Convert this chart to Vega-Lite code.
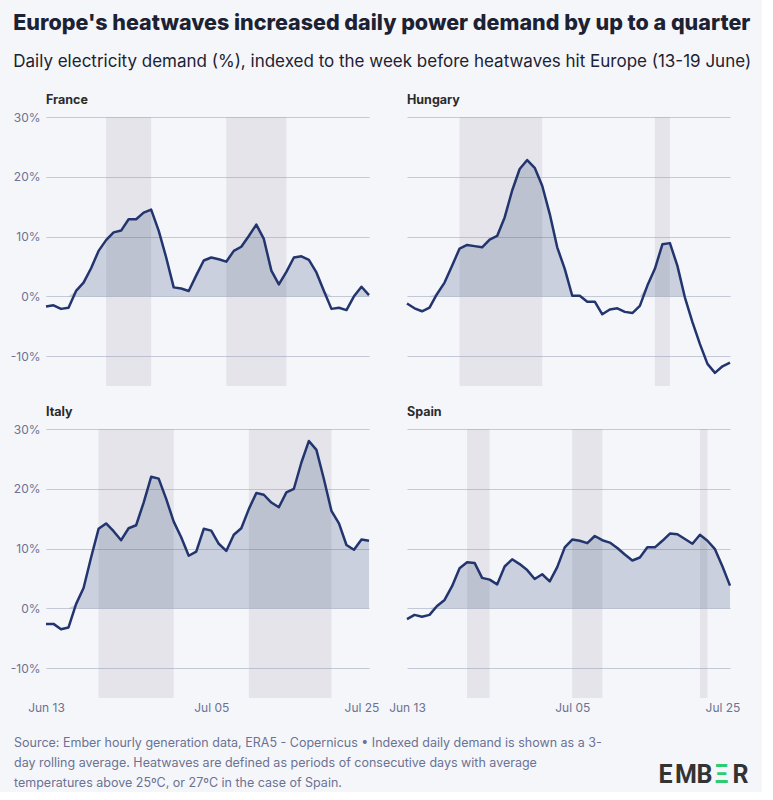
{
  "$schema": "https://vega.github.io/schema/vega-lite/v6.json",
  "background": "#f5f6fa",
  "padding": {"left": 10, "top": 13, "right": 10, "bottom": 0},
  "title": {
    "text": "Europe's heatwaves increased daily power demand by up to a quarter",
    "subtitle": "Daily electricity demand (%), indexed to the week before heatwaves hit Europe (13-19 June)",
    "anchor": "start",
    "frame": "bounds",
    "dx": 3,
    "font": "Inter",
    "fontSize": 21.5,
    "fontWeight": 800,
    "color": "#1c2233",
    "subtitleFont": "Inter",
    "subtitleFontSize": 17,
    "subtitleFontWeight": "normal",
    "subtitleColor": "#1c2233",
    "subtitlePadding": 19,
    "offset": 24
  },
  "data": {
    "values": [
      {"country": "France", "date": "2025-06-13", "demand": -1.7},
      {"country": "France", "date": "2025-06-14", "demand": -1.5},
      {"country": "France", "date": "2025-06-15", "demand": -2.1},
      {"country": "France", "date": "2025-06-16", "demand": -1.9},
      {"country": "France", "date": "2025-06-17", "demand": 0.9},
      {"country": "France", "date": "2025-06-18", "demand": 2.3},
      {"country": "France", "date": "2025-06-19", "demand": 4.7},
      {"country": "France", "date": "2025-06-20", "demand": 7.6},
      {"country": "France", "date": "2025-06-21", "demand": 9.4},
      {"country": "France", "date": "2025-06-22", "demand": 10.7},
      {"country": "France", "date": "2025-06-23", "demand": 11.0},
      {"country": "France", "date": "2025-06-24", "demand": 12.9},
      {"country": "France", "date": "2025-06-25", "demand": 12.9},
      {"country": "France", "date": "2025-06-26", "demand": 14.0},
      {"country": "France", "date": "2025-06-27", "demand": 14.5},
      {"country": "France", "date": "2025-06-28", "demand": 11.0},
      {"country": "France", "date": "2025-06-29", "demand": 6.5},
      {"country": "France", "date": "2025-06-30", "demand": 1.5},
      {"country": "France", "date": "2025-07-01", "demand": 1.3},
      {"country": "France", "date": "2025-07-02", "demand": 0.9},
      {"country": "France", "date": "2025-07-03", "demand": 3.5},
      {"country": "France", "date": "2025-07-04", "demand": 6.0},
      {"country": "France", "date": "2025-07-05", "demand": 6.5},
      {"country": "France", "date": "2025-07-06", "demand": 6.2},
      {"country": "France", "date": "2025-07-07", "demand": 5.8},
      {"country": "France", "date": "2025-07-08", "demand": 7.6},
      {"country": "France", "date": "2025-07-09", "demand": 8.3},
      {"country": "France", "date": "2025-07-10", "demand": 10.1},
      {"country": "France", "date": "2025-07-11", "demand": 12.0},
      {"country": "France", "date": "2025-07-12", "demand": 9.6},
      {"country": "France", "date": "2025-07-13", "demand": 4.3},
      {"country": "France", "date": "2025-07-14", "demand": 2.0},
      {"country": "France", "date": "2025-07-15", "demand": 4.1},
      {"country": "France", "date": "2025-07-16", "demand": 6.5},
      {"country": "France", "date": "2025-07-17", "demand": 6.7},
      {"country": "France", "date": "2025-07-18", "demand": 6.1},
      {"country": "France", "date": "2025-07-19", "demand": 4.0},
      {"country": "France", "date": "2025-07-20", "demand": 0.9},
      {"country": "France", "date": "2025-07-21", "demand": -2.1},
      {"country": "France", "date": "2025-07-22", "demand": -1.9},
      {"country": "France", "date": "2025-07-23", "demand": -2.3},
      {"country": "France", "date": "2025-07-24", "demand": 0.0},
      {"country": "France", "date": "2025-07-25", "demand": 1.6},
      {"country": "France", "date": "2025-07-26", "demand": 0.2},
      {"country": "Hungary", "date": "2025-06-13", "demand": -1.2},
      {"country": "Hungary", "date": "2025-06-14", "demand": -2.0},
      {"country": "Hungary", "date": "2025-06-15", "demand": -2.5},
      {"country": "Hungary", "date": "2025-06-16", "demand": -1.9},
      {"country": "Hungary", "date": "2025-06-17", "demand": 0.4},
      {"country": "Hungary", "date": "2025-06-18", "demand": 2.3},
      {"country": "Hungary", "date": "2025-06-19", "demand": 5.1},
      {"country": "Hungary", "date": "2025-06-20", "demand": 8.0},
      {"country": "Hungary", "date": "2025-06-21", "demand": 8.6},
      {"country": "Hungary", "date": "2025-06-22", "demand": 8.4},
      {"country": "Hungary", "date": "2025-06-23", "demand": 8.2},
      {"country": "Hungary", "date": "2025-06-24", "demand": 9.5},
      {"country": "Hungary", "date": "2025-06-25", "demand": 10.1},
      {"country": "Hungary", "date": "2025-06-26", "demand": 13.2},
      {"country": "Hungary", "date": "2025-06-27", "demand": 17.7},
      {"country": "Hungary", "date": "2025-06-28", "demand": 21.3},
      {"country": "Hungary", "date": "2025-06-29", "demand": 22.8},
      {"country": "Hungary", "date": "2025-06-30", "demand": 21.5},
      {"country": "Hungary", "date": "2025-07-01", "demand": 18.5},
      {"country": "Hungary", "date": "2025-07-02", "demand": 13.8},
      {"country": "Hungary", "date": "2025-07-03", "demand": 8.2},
      {"country": "Hungary", "date": "2025-07-04", "demand": 4.6},
      {"country": "Hungary", "date": "2025-07-05", "demand": 0.1},
      {"country": "Hungary", "date": "2025-07-06", "demand": 0.1},
      {"country": "Hungary", "date": "2025-07-07", "demand": -0.9},
      {"country": "Hungary", "date": "2025-07-08", "demand": -0.9},
      {"country": "Hungary", "date": "2025-07-09", "demand": -3.0},
      {"country": "Hungary", "date": "2025-07-10", "demand": -2.2},
      {"country": "Hungary", "date": "2025-07-11", "demand": -2.0},
      {"country": "Hungary", "date": "2025-07-12", "demand": -2.6},
      {"country": "Hungary", "date": "2025-07-13", "demand": -2.8},
      {"country": "Hungary", "date": "2025-07-14", "demand": -1.6},
      {"country": "Hungary", "date": "2025-07-15", "demand": 1.8},
      {"country": "Hungary", "date": "2025-07-16", "demand": 4.6},
      {"country": "Hungary", "date": "2025-07-17", "demand": 8.7},
      {"country": "Hungary", "date": "2025-07-18", "demand": 8.9},
      {"country": "Hungary", "date": "2025-07-19", "demand": 5.1},
      {"country": "Hungary", "date": "2025-07-20", "demand": -0.2},
      {"country": "Hungary", "date": "2025-07-21", "demand": -4.3},
      {"country": "Hungary", "date": "2025-07-22", "demand": -8.0},
      {"country": "Hungary", "date": "2025-07-23", "demand": -11.3},
      {"country": "Hungary", "date": "2025-07-24", "demand": -12.8},
      {"country": "Hungary", "date": "2025-07-25", "demand": -11.7},
      {"country": "Hungary", "date": "2025-07-26", "demand": -11.1},
      {"country": "Italy", "date": "2025-06-13", "demand": -2.6},
      {"country": "Italy", "date": "2025-06-14", "demand": -2.6},
      {"country": "Italy", "date": "2025-06-15", "demand": -3.5},
      {"country": "Italy", "date": "2025-06-16", "demand": -3.2},
      {"country": "Italy", "date": "2025-06-17", "demand": 0.7},
      {"country": "Italy", "date": "2025-06-18", "demand": 3.4},
      {"country": "Italy", "date": "2025-06-19", "demand": 8.5},
      {"country": "Italy", "date": "2025-06-20", "demand": 13.3},
      {"country": "Italy", "date": "2025-06-21", "demand": 14.2},
      {"country": "Italy", "date": "2025-06-22", "demand": 12.9},
      {"country": "Italy", "date": "2025-06-23", "demand": 11.4},
      {"country": "Italy", "date": "2025-06-24", "demand": 13.4},
      {"country": "Italy", "date": "2025-06-25", "demand": 13.9},
      {"country": "Italy", "date": "2025-06-26", "demand": 17.7},
      {"country": "Italy", "date": "2025-06-27", "demand": 22.0},
      {"country": "Italy", "date": "2025-06-28", "demand": 21.7},
      {"country": "Italy", "date": "2025-06-29", "demand": 18.3},
      {"country": "Italy", "date": "2025-06-30", "demand": 14.5},
      {"country": "Italy", "date": "2025-07-01", "demand": 11.9},
      {"country": "Italy", "date": "2025-07-02", "demand": 8.8},
      {"country": "Italy", "date": "2025-07-03", "demand": 9.5},
      {"country": "Italy", "date": "2025-07-04", "demand": 13.3},
      {"country": "Italy", "date": "2025-07-05", "demand": 13.0},
      {"country": "Italy", "date": "2025-07-06", "demand": 10.8},
      {"country": "Italy", "date": "2025-07-07", "demand": 9.6},
      {"country": "Italy", "date": "2025-07-08", "demand": 12.3},
      {"country": "Italy", "date": "2025-07-09", "demand": 13.4},
      {"country": "Italy", "date": "2025-07-10", "demand": 16.6},
      {"country": "Italy", "date": "2025-07-11", "demand": 19.3},
      {"country": "Italy", "date": "2025-07-12", "demand": 19.0},
      {"country": "Italy", "date": "2025-07-13", "demand": 17.7},
      {"country": "Italy", "date": "2025-07-14", "demand": 16.9},
      {"country": "Italy", "date": "2025-07-15", "demand": 19.4},
      {"country": "Italy", "date": "2025-07-16", "demand": 20.0},
      {"country": "Italy", "date": "2025-07-17", "demand": 24.4},
      {"country": "Italy", "date": "2025-07-18", "demand": 28.0},
      {"country": "Italy", "date": "2025-07-19", "demand": 26.5},
      {"country": "Italy", "date": "2025-07-20", "demand": 21.6},
      {"country": "Italy", "date": "2025-07-21", "demand": 16.3},
      {"country": "Italy", "date": "2025-07-22", "demand": 14.2},
      {"country": "Italy", "date": "2025-07-23", "demand": 10.6},
      {"country": "Italy", "date": "2025-07-24", "demand": 9.8},
      {"country": "Italy", "date": "2025-07-25", "demand": 11.5},
      {"country": "Italy", "date": "2025-07-26", "demand": 11.3},
      {"country": "Spain", "date": "2025-06-13", "demand": -1.8},
      {"country": "Spain", "date": "2025-06-14", "demand": -1.1},
      {"country": "Spain", "date": "2025-06-15", "demand": -1.4},
      {"country": "Spain", "date": "2025-06-16", "demand": -1.1},
      {"country": "Spain", "date": "2025-06-17", "demand": 0.4},
      {"country": "Spain", "date": "2025-06-18", "demand": 1.4},
      {"country": "Spain", "date": "2025-06-19", "demand": 3.7},
      {"country": "Spain", "date": "2025-06-20", "demand": 6.7},
      {"country": "Spain", "date": "2025-06-21", "demand": 7.7},
      {"country": "Spain", "date": "2025-06-22", "demand": 7.6},
      {"country": "Spain", "date": "2025-06-23", "demand": 5.1},
      {"country": "Spain", "date": "2025-06-24", "demand": 4.8},
      {"country": "Spain", "date": "2025-06-25", "demand": 4.0},
      {"country": "Spain", "date": "2025-06-26", "demand": 7.0},
      {"country": "Spain", "date": "2025-06-27", "demand": 8.2},
      {"country": "Spain", "date": "2025-06-28", "demand": 7.4},
      {"country": "Spain", "date": "2025-06-29", "demand": 6.4},
      {"country": "Spain", "date": "2025-06-30", "demand": 4.9},
      {"country": "Spain", "date": "2025-07-01", "demand": 5.7},
      {"country": "Spain", "date": "2025-07-02", "demand": 4.5},
      {"country": "Spain", "date": "2025-07-03", "demand": 6.9},
      {"country": "Spain", "date": "2025-07-04", "demand": 10.2},
      {"country": "Spain", "date": "2025-07-05", "demand": 11.5},
      {"country": "Spain", "date": "2025-07-06", "demand": 11.3},
      {"country": "Spain", "date": "2025-07-07", "demand": 10.9},
      {"country": "Spain", "date": "2025-07-08", "demand": 12.1},
      {"country": "Spain", "date": "2025-07-09", "demand": 11.4},
      {"country": "Spain", "date": "2025-07-10", "demand": 11.0},
      {"country": "Spain", "date": "2025-07-11", "demand": 10.1},
      {"country": "Spain", "date": "2025-07-12", "demand": 9.0},
      {"country": "Spain", "date": "2025-07-13", "demand": 8.0},
      {"country": "Spain", "date": "2025-07-14", "demand": 8.5},
      {"country": "Spain", "date": "2025-07-15", "demand": 10.2},
      {"country": "Spain", "date": "2025-07-16", "demand": 10.2},
      {"country": "Spain", "date": "2025-07-17", "demand": 11.3},
      {"country": "Spain", "date": "2025-07-18", "demand": 12.5},
      {"country": "Spain", "date": "2025-07-19", "demand": 12.4},
      {"country": "Spain", "date": "2025-07-20", "demand": 11.6},
      {"country": "Spain", "date": "2025-07-21", "demand": 10.8},
      {"country": "Spain", "date": "2025-07-22", "demand": 12.3},
      {"country": "Spain", "date": "2025-07-23", "demand": 11.3},
      {"country": "Spain", "date": "2025-07-24", "demand": 9.9},
      {"country": "Spain", "date": "2025-07-25", "demand": 7.0},
      {"country": "Spain", "date": "2025-07-26", "demand": 3.8},
      {"country": "France", "start": "2025-06-21", "end": "2025-06-27"},
      {"country": "France", "start": "2025-07-07", "end": "2025-07-15"},
      {"country": "Hungary", "start": "2025-06-20", "end": "2025-07-01"},
      {"country": "Hungary", "start": "2025-07-16", "end": "2025-07-18"},
      {"country": "Italy", "start": "2025-06-20", "end": "2025-06-30"},
      {"country": "Italy", "start": "2025-07-10", "end": "2025-07-21"},
      {"country": "Spain", "start": "2025-06-21", "end": "2025-06-24"},
      {"country": "Spain", "start": "2025-07-05", "end": "2025-07-09"},
      {"country": "Spain", "start": "2025-07-22", "end": "2025-07-23"}
    ]
  },
  "vconcat": [
    {
      "vconcat": [
        {
          "hconcat": [
            {
              "title": "France",
              "width": 323,
              "height": 269,
              "transform": [{"filter": "datum.country == 'France'"}],
              "resolve": {"scale": {"y": "independent"}},
              "layer": [
                {
                  "transform": [{"filter": "datum.start != null"}],
                  "mark": {"type": "rect", "color": "#a0a1aa", "opacity": 0.2},
                  "encoding": {
                    "x": {"field": "start", "type": "temporal", "title": null, "axis": null,
                      "scale": {"type": "utc", "domain": [{"year": 2025, "month": 6, "date": 13, "utc": true}, {"year": 2025, "month": 7, "date": 26, "utc": true}]}},
                    "x2": {"field": "end"}
                  }
                },
                {
                  "transform": [{"filter": "datum.demand != null"}],
                  "mark": {"type": "area", "color": "#213a70", "opacity": 0.2},
                  "encoding": {
                    "x": {"field": "date", "type": "temporal", "title": null, "axis": null},
                    "y": {"field": "demand", "type": "quantitative", "axis": null,
                      "scale": {"domain": [0, 30], "range": [179.33, 0], "clamp": true, "nice": false}}
                  }
                },
                {
                  "transform": [{"filter": "datum.demand != null"}],
                  "mark": {"type": "line", "color": "#22356e", "strokeWidth": 2.5, "strokeJoin": "round"},
                  "encoding": {
                    "x": {"field": "date", "type": "temporal", "title": null, "axis": null},
                    "y": {"field": "demand", "type": "quantitative", "title": null,
                      "scale": {"domain": [-15, 30], "nice": false},
                      "axis": {"orient": "left", "grid": true, "values": [-10, 0, 10, 20, 30], "labelExpr": "datum.value + '%'"}}
                  }
                }
              ]
            },
            {
              "title": "Hungary",
              "width": 323,
              "height": 269,
              "transform": [{"filter": "datum.country == 'Hungary'"}],
              "resolve": {"scale": {"y": "independent"}},
              "layer": [
                {
                  "transform": [{"filter": "datum.start != null"}],
                  "mark": {"type": "rect", "color": "#a0a1aa", "opacity": 0.2},
                  "encoding": {
                    "x": {"field": "start", "type": "temporal", "title": null, "axis": null,
                      "scale": {"type": "utc", "domain": [{"year": 2025, "month": 6, "date": 13, "utc": true}, {"year": 2025, "month": 7, "date": 26, "utc": true}]}},
                    "x2": {"field": "end"}
                  }
                },
                {
                  "transform": [{"filter": "datum.demand != null"}],
                  "mark": {"type": "area", "color": "#213a70", "opacity": 0.2},
                  "encoding": {
                    "x": {"field": "date", "type": "temporal", "title": null, "axis": null},
                    "y": {"field": "demand", "type": "quantitative", "axis": null,
                      "scale": {"domain": [0, 30], "range": [179.33, 0], "clamp": true, "nice": false}}
                  }
                },
                {
                  "transform": [{"filter": "datum.demand != null"}],
                  "mark": {"type": "line", "color": "#22356e", "strokeWidth": 2.5, "strokeJoin": "round"},
                  "encoding": {
                    "x": {"field": "date", "type": "temporal", "title": null, "axis": null},
                    "y": {"field": "demand", "type": "quantitative", "title": null,
                      "scale": {"domain": [-15, 30], "nice": false},
                      "axis": {"orient": "left", "grid": true, "values": [-10, 0, 10, 20, 30], "labelExpr": "datum.value + '%'", "labelOpacity": 0}}
                  }
                }
              ]
            }
          ],
          "bounds": "flush",
          "spacing": 38
        },
        {
          "hconcat": [
            {
              "title": "Italy",
              "width": 323,
              "height": 269,
              "transform": [{"filter": "datum.country == 'Italy'"}],
              "resolve": {"scale": {"y": "independent"}},
              "layer": [
                {
                  "transform": [{"filter": "datum.start != null"}],
                  "mark": {"type": "rect", "color": "#a0a1aa", "opacity": 0.2},
                  "encoding": {
                    "x": {"field": "start", "type": "temporal", "title": null,
                      "scale": {"type": "utc", "domain": [{"year": 2025, "month": 6, "date": 13, "utc": true}, {"year": 2025, "month": 7, "date": 26, "utc": true}]},
                      "axis": {"values": [{"year": 2025, "month": 6, "date": 13, "utc": true}, {"year": 2025, "month": 7, "date": 5, "utc": true}, {"year": 2025, "month": 7, "date": 25, "utc": true}], "format": "%b %d"}},
                    "x2": {"field": "end"}
                  }
                },
                {
                  "transform": [{"filter": "datum.demand != null"}],
                  "mark": {"type": "area", "color": "#213a70", "opacity": 0.2},
                  "encoding": {
                    "x": {"field": "date", "type": "temporal", "title": null},
                    "y": {"field": "demand", "type": "quantitative", "axis": null,
                      "scale": {"domain": [0, 30], "range": [179.33, 0], "clamp": true, "nice": false}}
                  }
                },
                {
                  "transform": [{"filter": "datum.demand != null"}],
                  "mark": {"type": "line", "color": "#22356e", "strokeWidth": 2.5, "strokeJoin": "round"},
                  "encoding": {
                    "x": {"field": "date", "type": "temporal", "title": null},
                    "y": {"field": "demand", "type": "quantitative", "title": null,
                      "scale": {"domain": [-15, 30], "nice": false},
                      "axis": {"orient": "left", "grid": true, "values": [-10, 0, 10, 20, 30], "labelExpr": "datum.value + '%'"}}
                  }
                }
              ]
            },
            {
              "title": "Spain",
              "width": 323,
              "height": 269,
              "transform": [{"filter": "datum.country == 'Spain'"}],
              "resolve": {"scale": {"y": "independent"}},
              "layer": [
                {
                  "transform": [{"filter": "datum.start != null"}],
                  "mark": {"type": "rect", "color": "#a0a1aa", "opacity": 0.2},
                  "encoding": {
                    "x": {"field": "start", "type": "temporal", "title": null,
                      "scale": {"type": "utc", "domain": [{"year": 2025, "month": 6, "date": 13, "utc": true}, {"year": 2025, "month": 7, "date": 26, "utc": true}]},
                      "axis": {"values": [{"year": 2025, "month": 6, "date": 13, "utc": true}, {"year": 2025, "month": 7, "date": 5, "utc": true}, {"year": 2025, "month": 7, "date": 25, "utc": true}], "format": "%b %d"}},
                    "x2": {"field": "end"}
                  }
                },
                {
                  "transform": [{"filter": "datum.demand != null"}],
                  "mark": {"type": "area", "color": "#213a70", "opacity": 0.2},
                  "encoding": {
                    "x": {"field": "date", "type": "temporal", "title": null},
                    "y": {"field": "demand", "type": "quantitative", "axis": null,
                      "scale": {"domain": [0, 30], "range": [179.33, 0], "clamp": true, "nice": false}}
                  }
                },
                {
                  "transform": [{"filter": "datum.demand != null"}],
                  "mark": {"type": "line", "color": "#22356e", "strokeWidth": 2.5, "strokeJoin": "round"},
                  "encoding": {
                    "x": {"field": "date", "type": "temporal", "title": null},
                    "y": {"field": "demand", "type": "quantitative", "title": null,
                      "scale": {"domain": [-15, 30], "nice": false},
                      "axis": {"orient": "left", "grid": true, "values": [-10, 0, 10, 20, 30], "labelExpr": "datum.value + '%'", "labelOpacity": 0}}
                  }
                }
              ]
            }
          ],
          "bounds": "flush",
          "spacing": 38
        }
      ],
      "spacing": 19
    },
    {
      "width": 703,
      "height": 55,
      "data": {
        "values": [
          {"note": "Source: Ember hourly generation data, ERA5 - Copernicus • Indexed daily demand is shown as a 3-\nday rolling average. Heatwaves are defined as periods of consecutive days with average\ntemperatures above 25ºC, or 27ºC in the case of Spain."}
        ]
      },
      "layer": [
        {
          "mark": {"type": "text", "align": "left", "baseline": "top", "lineBreak": "\n", "lineHeight": 20, "font": "Inter", "fontSize": 12.5, "color": "#6b7293"},
          "encoding": {"x": {"value": -32}, "y": {"value": 0}, "text": {"field": "note"}}
        },
        {
          "mark": {"type": "text", "text": "E", "align": "left", "baseline": "alphabetic", "font": "Roboto", "fontWeight": "bold", "fontSize": 25, "color": "#333333"},
          "encoding": {"x": {"value": 612.5}, "y": {"value": 46}}
        },
        {
          "mark": {"type": "text", "text": "M", "align": "left", "baseline": "alphabetic", "font": "Roboto", "fontWeight": "bold", "fontSize": 25, "color": "#333333"},
          "encoding": {"x": {"value": 629}, "y": {"value": 46}}
        },
        {
          "mark": {"type": "text", "text": "B", "align": "left", "baseline": "alphabetic", "font": "Roboto", "fontWeight": "bold", "fontSize": 25, "color": "#333333"},
          "encoding": {"x": {"value": 650.5}, "y": {"value": 46}}
        },
        {
          "mark": {"type": "text", "text": "Ξ", "align": "left", "baseline": "alphabetic", "font": "Roboto", "fontWeight": "bold", "fontSize": 25, "color": "#2ecc71"},
          "encoding": {"x": {"value": 668.5}, "y": {"value": 46}}
        },
        {
          "mark": {"type": "text", "text": "R", "align": "left", "baseline": "alphabetic", "font": "Roboto", "fontWeight": "bold", "fontSize": 25, "color": "#333333"},
          "encoding": {"x": {"value": 686.5}, "y": {"value": 46}}
        }
      ]
    }
  ],
  "spacing": 24,
  "config": {
    "view": {"stroke": null},
    "title": {"anchor": "start", "frame": "group", "font": "Inter", "fontSize": 12.5, "fontWeight": "bold", "color": "#2b2b2b", "offset": 5},
    "axis": {"domain": false, "ticks": false, "labelFont": "Inter", "labelFontSize": 12, "labelColor": "#6b7293", "gridColor": "#c3c9d7"},
    "axisX": {"grid": false, "labelPadding": 4, "labelFlush": false},
    "axisY": {"labelPadding": 6}
  }
}
